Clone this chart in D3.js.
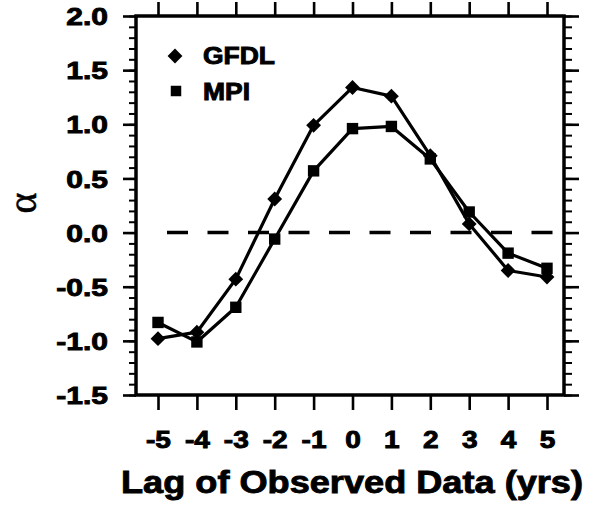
<!DOCTYPE html>
<html>
<head>
<meta charset="utf-8">
<script src="https://cdn.jsdelivr.net/npm/d3@7"></script>
<style>
  html, body { margin: 0; padding: 0; background: #fff; }
  svg { display: block; }
  text { font-family: "Liberation Sans", Arial, Helvetica, sans-serif; font-weight: bold; fill: #000; stroke: #000; stroke-width: 0.9px; }
</style>
</head>
<body>
<script>
// ---- data ----
const lags = [-5, -4, -3, -2, -1, 0, 1, 2, 3, 4, 5];
const lagLabels = ["-5", "-4", "-3", "-2", "-1", "0", "1", "2", "3", "4", "5"];
const gfdl = [-0.98, -0.92, -0.43, 0.31, 0.99, 1.34, 1.26, 0.71, 0.08, -0.35, -0.41];
const mpi  = [-0.83, -1.01, -0.69, -0.06, 0.57, 0.96, 0.98, 0.68, 0.19, -0.19, -0.33];
const yMajor = [-1.5, -1.0, -0.5, 0.0, 0.5, 1.0, 1.5, 2.0];
const yLabels = ["-1.5", "-1.0", "-0.5", "0.0", "0.5", "1.0", "1.5", "2.0"];
const yMinor = d3.range(-15, 21).map(v => v / 10);
const seriesNames = ["GFDL", "MPI"];
const xTitle = "Lag of Observed Data (yrs)";
const yTitle = "\u03B1";

// ---- layout ----
const W = 594, H = 506;
const frame = { left: 136, right: 564, top: 16, bottom: 395 };
const x = d3.scaleLinear().domain([-5, 5]).range([158, 547]);
const y = d3.scaleLinear().domain([-1.5, 2.0]).range([frame.bottom, frame.top]);

const svg = d3.select("body").append("svg").attr("width", W).attr("height", H);

function styleAxis(g, width) {
  g.select(".domain").remove();
  g.attr("font-family", null).attr("font-size", null);
  g.selectAll(".tick line").attr("stroke", "#000").attr("stroke-width", width);
}

// minor ticks left / right
const gMinL = svg.append("g").attr("transform", `translate(${frame.left},0)`)
  .call(d3.axisLeft(y).tickValues(yMinor).tickSize(7).tickFormat(""));
styleAxis(gMinL, 2);
const gMinR = svg.append("g").attr("transform", `translate(${frame.right},0)`)
  .call(d3.axisRight(y).tickValues(yMinor).tickSize(8).tickFormat(""));
styleAxis(gMinR, 2);

// major left with labels
const gL = svg.append("g").attr("transform", `translate(${frame.left},0)`)
  .call(d3.axisLeft(y).tickValues(yMajor).tickSize(13).tickPadding(17)
    .tickFormat(d => yLabels[yMajor.indexOf(d)]));
styleAxis(gL, 2.6);
gL.selectAll(".tick text").each(function () {
  const t = d3.select(this);
  const x0 = +t.attr("x");
  t.attr("x", 0).attr("dy", "0.36em").attr("transform", `translate(${x0 + 2},0) scale(1.25,1)`)
   .attr("font-size", 24);
});

// major right
const gR = svg.append("g").attr("transform", `translate(${frame.right},0)`)
  .call(d3.axisRight(y).tickValues(yMajor).tickSize(15).tickFormat(""));
styleAxis(gR, 2.6);

// top ticks
const gT = svg.append("g").attr("transform", `translate(0,${frame.top})`)
  .call(d3.axisTop(x).tickValues(lags).tickSize(14).tickFormat(""));
styleAxis(gT, 2.6);

// bottom ticks with labels
const gB = svg.append("g").attr("transform", `translate(0,${frame.bottom})`)
  .call(d3.axisBottom(x).tickValues(lags).tickSize(15).tickPadding(22)
    .tickFormat(d => lagLabels[lags.indexOf(d)]));
styleAxis(gB, 2.6);
gB.selectAll(".tick text").attr("font-size", 23)
  .attr("transform", "scale(1.22,1)");

// frame
svg.append("rect")
  .attr("x", frame.left).attr("y", frame.top)
  .attr("width", frame.right - frame.left).attr("height", frame.bottom - frame.top)
  .attr("fill", "none").attr("stroke", "#000").attr("stroke-width", 3.5);

// zero dashed line
svg.append("line")
  .attr("x1", frame.left + 31).attr("x2", frame.right)
  .attr("y1", y(0)).attr("y2", y(0))
  .attr("stroke", "#000").attr("stroke-width", 3.5)
  .attr("stroke-dasharray", "21,19.5");

// series
const data = [gfdl, mpi];
const line = d3.line().x((d, i) => x(lags[i])).y(d => y(d));
data.forEach(vals => {
  svg.append("path").datum(vals).attr("d", line)
    .attr("fill", "none").attr("stroke", "#000").attr("stroke-width", 3.2)
    .attr("stroke-linejoin", "round");
});

const diamond = d3.symbol().type(d3.symbolSquare).size(110);
const square = d3.symbol().type(d3.symbolSquare).size(130);

svg.append("g").selectAll("path").data(gfdl).join("path")
  .attr("d", diamond)
  .attr("transform", (d, i) => `translate(${x(lags[i])},${y(d)}) rotate(45)`)
  .attr("fill", "#000");
svg.append("g").selectAll("path").data(mpi).join("path")
  .attr("d", square)
  .attr("transform", (d, i) => `translate(${x(lags[i])},${y(d)})`)
  .attr("fill", "#000");

// legend
const leg = svg.append("g");
leg.append("path").attr("d", diamond).attr("transform", "translate(175,56) rotate(45)").attr("fill", "#000");
leg.append("path").attr("d", d3.symbol().type(d3.symbolSquare).size(110)).attr("transform", "translate(176,91)").attr("fill", "#000");
leg.append("text").attr("transform", "translate(203,64) scale(1.15,1)").attr("font-size", 23).text(seriesNames[0]);
leg.append("text").attr("transform", "translate(203,100) scale(1.15,1)").attr("font-size", 23).text(seriesNames[1]);

// axis titles
svg.append("text")
  .attr("transform", "translate(352,493) scale(1.13,1)")
  .attr("text-anchor", "middle").attr("font-size", 32)
  .text(xTitle);

svg.append("text")
  .attr("transform", "translate(36,203) rotate(-90)")
  .attr("text-anchor", "middle")
  .style("font-family", "'Liberation Serif', 'DejaVu Serif', serif")
  .style("font-weight", "normal")
  .style("stroke-width", "0.5px")
  .attr("font-size", 40)
  .text(yTitle);
</script>
</body>
</html>
